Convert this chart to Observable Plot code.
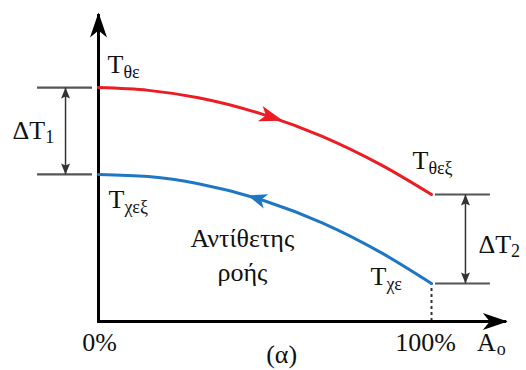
<!DOCTYPE html>
<html>
<head>
<meta charset="utf-8">
<script src="https://cdn.jsdelivr.net/npm/d3@7"></script>
<script src="https://cdn.jsdelivr.net/npm/@observablehq/plot@0.6"></script>
<style>
  html, body { margin: 0; padding: 0; background: #ffffff; }
  #chart svg, #chart svg text { font-family: "Liberation Serif", "Times New Roman", serif; }
</style>
</head>
<body>
<div id="chart"></div>
<script>
// Counter-flow heat exchanger: temperature along the exchanger area A_o (0% → 100%)
const areaPct  = [0, 15, 30, 50, 67, 85, 100];
const hotTemp  = [75.7, 74.8, 72.4, 66.8, 60.0, 50.6, 41.1];   // hot stream, flows 0% → 100%
const coldTemp = [47.6, 46.9, 44.6, 39.0, 32.0, 22.2, 12.3];   // cold stream, flows 100% → 0%
const axisTop = 100;   // end of temperature axis
const axisEnd = 123;   // end of area axis (%)
const tickLabels = ["0%", "100%"];
const tickValues = [0, 100];

const hot  = areaPct.map((a, i) => ({area: a, temp: hotTemp[i]}));
const cold = areaPct.map((a, i) => ({area: a, temp: coldTemp[i]}));
const ticks = tickValues.map((v, i) => ({area: v, label: tickLabels[i]}));
const tHotIn   = hotTemp[0];
const tHotOut  = hotTemp[hotTemp.length - 1];
const tColdOut = coldTemp[0];
const tColdIn  = coldTemp[coldTemp.length - 1];

const RED = "#ec1c24", BLUE = "#1f77c4", INK = "#111111", GREY = "#555555";
const FONT = '"Liberation Serif", "Times New Roman", serif';
const BIG = 26, SMALL = 18;

// filled, notched arrowhead marker; tip sits `ahead` px beyond the vertex
function arrowHead(ahead, length, half, notch) {
  return (color) => {
    const back = ahead - length;
    const m = d3.create("svg:marker")
      .attr("viewBox", `${back} ${-half} ${length} ${2 * half}`)
      .attr("markerWidth", length)
      .attr("markerHeight", 2 * half)
      .attr("markerUnits", "userSpaceOnUse")
      .attr("refX", 0).attr("refY", 0)
      .attr("orient", "auto-start-reverse")
      .attr("overflow", "visible");
    m.append("path")
      .attr("fill", color)
      .attr("stroke", "none")
      .attr("d", `M${ahead},0L${back},${-half}L${back + notch},0L${back},${half}Z`);
    return m.node();
  };
}

const ctx = document.createElement("canvas").getContext("2d");
function measure(s, size) {
  ctx.font = `${size}px "Liberation Serif"`;
  return ctx.measureText(s).width;
}

const textStyle = {fontFamily: FONT, fill: INK, lineAnchor: "bottom"};

// a label with a subscript, anchored to a data point
function subLabel(x, y, main, sub, dx, dy, subDy = 5, gap = 0) {
  return [
    Plot.text([main], {x, y, dx, dy, text: d => d, fontSize: BIG, textAnchor: "start", ...textStyle}),
    Plot.text([sub], {x, y, dx: dx + measure(main, BIG) + gap, dy: dy + subDy, text: d => d, fontSize: SMALL, textAnchor: "start", ...textStyle})
  ];
}

const chart = Plot.plot({
  width: 526,
  height: 370,
  margin: 0,
  x: {domain: [0, 100], range: [98, 431], axis: null},
  y: {domain: [0, 100], range: [321, 12], axis: null},
  style: {background: "#ffffff", fontFamily: FONT},
  marks: [
    // temperature difference brackets
    Plot.ruleY([tHotIn, tColdOut], {x1: -18.3, x2: -1.8, stroke: GREY, strokeWidth: 2.2}),
    Plot.ruleY([tHotOut, tColdIn], {x1: 101.2, x2: 117.7, stroke: GREY, strokeWidth: 2.2}),
    Plot.link([0], {x1: -9.9, x2: -9.9, y1: tHotIn, y2: tColdOut, stroke: "#333", strokeWidth: 1.5,
      markerStart: arrowHead(0, 11, 4.5, 2), markerEnd: arrowHead(0, 11, 4.5, 2)}),
    Plot.link([0], {x1: 110.2, x2: 110.2, y1: tHotOut, y2: tColdIn, stroke: "#333", strokeWidth: 1.5,
      markerStart: arrowHead(0, 11, 4.5, 2), markerEnd: arrowHead(0, 11, 4.5, 2)}),
    // dotted drop from the cold inlet to the area axis
    Plot.ruleX([100], {y1: 0, y2: tColdIn, stroke: "#333", strokeWidth: 2, strokeDasharray: "3,3"}),
    // axes with arrowheads
    Plot.link([0], {x1: 0, y1: 0, x2: 0, y2: axisTop - 1, stroke: "#000", strokeWidth: 3, strokeLinecap: "square",
      markerEnd: arrowHead(3, 25, 8.5, 7)}),
    Plot.link([0], {x1: 0, y1: 0, x2: axisEnd - 1, y2: 0, stroke: "#000", strokeWidth: 3, strokeLinecap: "square",
      markerEnd: arrowHead(3, 25, 8.5, 7)}),
    // temperature profiles
    Plot.line(hot,  {x: "area", y: "temp", stroke: RED,  strokeWidth: 3, curve: "monotone-x"}),
    Plot.line(cold, {x: "area", y: "temp", stroke: BLUE, strokeWidth: 3, curve: "monotone-x"}),
    // flow-direction arrowheads
    Plot.line(hot.slice(2, 5), {x: "area", y: "temp", stroke: RED, strokeOpacity: 0, markerMid: arrowHead(19, 24, 8, 6)}),
    Plot.line(cold.slice(2, 5).reverse(), {x: "area", y: "temp", stroke: BLUE, strokeOpacity: 0, markerMid: arrowHead(18, 19, 7.5, 5)}),
    // stream temperature labels
    ...subLabel(0, tHotIn, "T", "θε", 9, -15),
    ...subLabel(100, tHotOut, "T", "θεξ", -19, -26),
    ...subLabel(0, tColdOut, "T", "χεξ", 10, 34),
    ...subLabel(100, tColdIn, "T", "χε", -61, 2),
    ...subLabel(-9.9, (tHotIn + tColdOut) / 2, "ΔT", "1", -53, 7.5, 4),
    ...subLabel(110.2, (tHotOut + tColdIn) / 2, "ΔT", "2", 13, 14.5, 4),
    // area axis labels
    Plot.text(ticks, {filter: d => d.area === 0, x: "area", y: 0, dx: 1, dy: 29, text: "label", fontSize: BIG, textAnchor: "middle", ...textStyle}),
    Plot.text(ticks, {filter: d => d.area === 100, x: "area", y: 0, dx: -6, dy: 29, text: "label", fontSize: BIG, textAnchor: "middle", ...textStyle}),
    ...subLabel(axisEnd, 0, "A", "o", -31, 29, 4, 1),
    Plot.text(["(α)"], {x: 55, y: 0, dy: 41, text: d => d, fontSize: BIG, textAnchor: "middle", ...textStyle}),
    Plot.text(["Αντίθετης\nροής"], {x: 43.2, y: 0, dy: -41, text: d => d, fontSize: BIG, lineHeight: 1.27,
      textAnchor: "middle", ...textStyle})
  ]
});

document.getElementById("chart").appendChild(chart);
</script>
</body>
</html>
